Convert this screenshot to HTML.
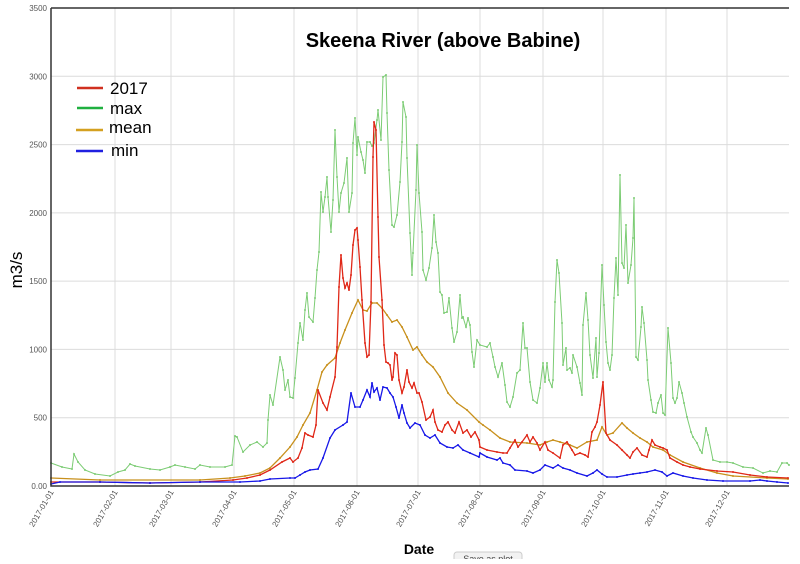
<!DOCTYPE html>
<html><head><meta charset="utf-8"><style>
body{margin:0;background:#fff;width:800px;height:559px;overflow:hidden;font-family:"Liberation Sans",sans-serif}
</style></head><body>
<svg id="s" width="800" height="559" xmlns="http://www.w3.org/2000/svg" font-family="Liberation Sans, sans-serif">
<rect width="800" height="559" fill="#fff"/>
<g id="grid" stroke="#dcdcdc" stroke-width="1"></g>
<g id="ylab" font-size="8" fill="#555" text-anchor="end"></g>
<g id="xlab" font-size="8" fill="#555" text-anchor="end"></g>
<g id="series"></g>
<path d="M51,8 H789 M51,8 V486 H789" fill="none" stroke="#333" stroke-width="1.5"/>
<text x="443" y="47" font-size="20" font-weight="bold" text-anchor="middle" fill="#000">Skeena River (above Babine)</text>
<g stroke-width="2.5">
<line x1="77" y1="88" x2="103" y2="88" stroke="#d03020"/>
<line x1="77" y1="108" x2="103" y2="108" stroke="#20b040"/>
<line x1="76" y1="130" x2="103" y2="130" stroke="#d4a020"/>
<line x1="76" y1="151" x2="103" y2="151" stroke="#2020e0"/>
</g>
<g font-size="17" fill="#000">
<text x="110" y="94">2017</text>
<text x="110" y="114">max</text>
<text x="109" y="133">mean</text>
<text x="111" y="156">min</text>
</g>
<text transform="translate(22,270) rotate(-90)" font-size="17" text-anchor="middle">m3/s</text>
<text x="419" y="554" font-size="14" font-weight="bold" text-anchor="middle">Date</text>
<rect x="454" y="552" width="68" height="12" rx="3" fill="#f2f2f2" stroke="#ccc"/>
<text x="488" y="562" font-size="9" fill="#444" text-anchor="middle">Save as plot</text>
</svg>
<script>
var NS="http://www.w3.org/2000/svg";
function el(t,a,p){var e=document.createElementNS(NS,t);for(var k in a)e.setAttribute(k,a[k]);if(p)p.appendChild(e);return e;}
var g=document.getElementById('grid'),yl=document.getElementById('ylab'),xl=document.getElementById('xlab');
for(var v=0;v<=3500;v+=500){var y=486-v*0.13657;el('line',{x1:51,x2:789,y1:y,y2:y},g);var t=el('text',{x:47,y:y+3},yl);t.textContent=v==0?'0.00':v;}
var mx=[51,115,171,234,294,357,418,480,543,603,666,727],mn=['01','02','03','04','05','06','07','08','09','10','11','12'];
for(var i=0;i<12;i++){var x=mx[i];if(i>0)el('line',{x1:x,x2:x,y1:8,y2:486},g);var t=el('text',{transform:'translate('+(x+3)+',492) rotate(-60)'},xl);t.textContent='2017-'+mn[i]+'-01';}
var S={
g:["#7ccc74",[51,463,62,467,72,469,74,454,78,462,85,470,95,474,110,476,118,472,125,470,130,464,135,466,150,469,160,470,170,467,175,465,185,467,195,469,200,465,210,467,225,467,232,465,235,436,237,437,243,452,250,445,257,442,263,447,267,443,268,420,270,395,273,405,280,357,283,370,285,390,288,380,290,397,293,398,295,378,298,343,300,323,303,340,305,310,307,293,309,317,313,322,315,298,317,270,319,252,321,192,323,212,325,197,327,177,328,197,331,232,333,200,335,130,337,177,339,212,341,193,344,183,347,158,349,212,352,193,353,143,355,118,357,155,358,137,361,152,363,160,365,173,367,142,370,142,372,146,374,143,377,120,378,110,381,140,383,77,386,75,387,113,389,170,392,225,394,227,397,215,400,182,402,142,403,102,406,117,407,158,410,233,412,275,413,253,416,190,417,145,419,193,422,232,423,270,426,280,429,268,432,248,434,215,436,242,438,253,440,292,442,295,444,313,447,312,449,298,452,328,454,342,457,332,460,295,462,318,463,317,466,327,468,318,470,325,472,352,474,367,477,340,480,345,487,347,490,343,493,357,495,367,498,377,502,363,505,385,507,402,510,407,513,397,517,373,520,370,523,323,525,348,527,348,530,382,533,400,537,403,540,388,543,363,545,382,547,363,549,380,552,387,553,380,555,302,557,260,559,273,562,323,563,365,566,348,567,370,570,368,572,373,573,355,577,367,580,383,582,395,583,325,586,293,588,320,590,355,593,378,596,338,597,377,599,353,602,265,604,305,606,342,608,363,610,370,612,355,614,298,616,258,618,295,620,175,622,263,624,268,626,225,628,283,631,265,633,238,634,198,636,357,638,360,641,327,642,307,644,323,647,360,648,380,651,400,653,412,656,413,658,403,661,395,663,413,665,415,668,328,671,363,673,398,675,403,677,398,679,382,682,393,684,403,687,417,691,432,693,437,697,443,700,450,702,453,706,428,708,435,713,460,720,462,727,462,733,463,743,467,753,468,763,473,770,471,777,472,782,463,787,463,789,465]],
m:["#c8901c",[51,478,100,480,200,480,230,478,245,476,260,473,270,468,280,458,290,447,297,437,303,425,310,413,317,390,322,372,327,365,335,358,340,343,345,330,352,313,358,300,363,310,367,311,372,303,377,303,382,308,387,315,392,322,397,320,402,327,407,337,413,350,417,347,422,355,427,362,433,367,440,377,448,393,457,403,467,410,479,422,483,425,490,430,500,438,510,442,527,443,540,445,547,442,553,440,560,442,570,445,577,448,587,442,597,440,602,427,607,435,613,433,622,423,627,428,633,433,640,438,647,442,653,447,663,450,670,455,683,462,700,468,717,473,733,476,767,478,788,479]],
r:["#e02818",[51,482,100,482,150,483,200,482,233,480,247,478,260,475,270,470,282,462,290,458,293,462,298,458,302,448,305,433,308,435,313,437,316,425,318,390,323,403,327,410,330,397,335,377,337,347,339,287,341,255,343,278,345,288,347,283,349,290,351,275,353,245,355,230,357,228,358,240,360,267,362,300,365,343,367,357,369,355,371,302,373,157,374,122,376,130,378,217,379,257,382,300,384,345,386,362,388,363,390,365,392,380,393,377,395,353,397,355,399,380,402,393,404,387,407,370,409,382,412,388,414,383,417,393,419,393,422,402,426,420,430,417,433,410,435,422,438,430,442,432,445,425,448,422,452,430,455,433,459,422,463,433,467,430,471,437,475,432,479,440,480,447,487,450,497,452,503,453,507,453,510,448,515,440,518,447,522,442,527,435,530,442,533,437,537,443,540,450,545,442,548,450,553,453,560,458,563,445,567,442,572,450,575,455,580,453,585,455,588,457,592,432,595,427,597,422,600,405,603,382,606,433,610,440,617,445,622,450,627,455,630,458,633,452,637,448,642,455,647,457,649,450,652,440,655,445,660,447,663,448,667,450,670,458,677,462,683,465,690,467,700,469,717,471,733,472,750,475,767,477,788,478]],
b:["#1818e8",[51,484,60,482,100,482,150,483,200,482,240,482,260,481,270,479,290,478,295,478,300,475,305,472,310,470,318,469,323,458,330,438,335,430,343,425,347,422,351,393,355,407,360,407,363,400,367,390,370,397,372,383,374,392,377,388,380,400,383,387,387,388,390,393,393,397,396,407,399,418,402,405,404,413,407,423,410,428,415,423,420,425,425,435,430,438,435,435,440,443,447,447,453,448,458,445,463,450,470,453,479,457,480,453,487,457,497,460,500,458,503,463,510,465,515,470,527,471,533,473,540,470,545,465,553,468,558,465,563,468,570,470,577,473,587,476,593,473,597,470,602,474,607,477,617,477,627,475,633,474,640,473,647,472,655,470,662,472,667,476,673,473,683,476,693,478,707,480,723,481,750,481,760,480,767,481,777,482,788,483]]};
var sg=document.getElementById('series');
['g','m','r','b'].forEach(function(k){var c=S[k][0],a=S[k][1],pts=[];
for(var i=0;i<a.length;i+=2){pts.push(a[i]+','+a[i+1]);}
el('polyline',{points:pts.join(' '),fill:'none',stroke:c,'stroke-width':k=='g'?1:1.3},sg);
for(var i=0;i<a.length;i+=2)el('circle',{cx:a[i],cy:a[i+1],r:1,fill:c},sg);});
</script>
</body></html>
